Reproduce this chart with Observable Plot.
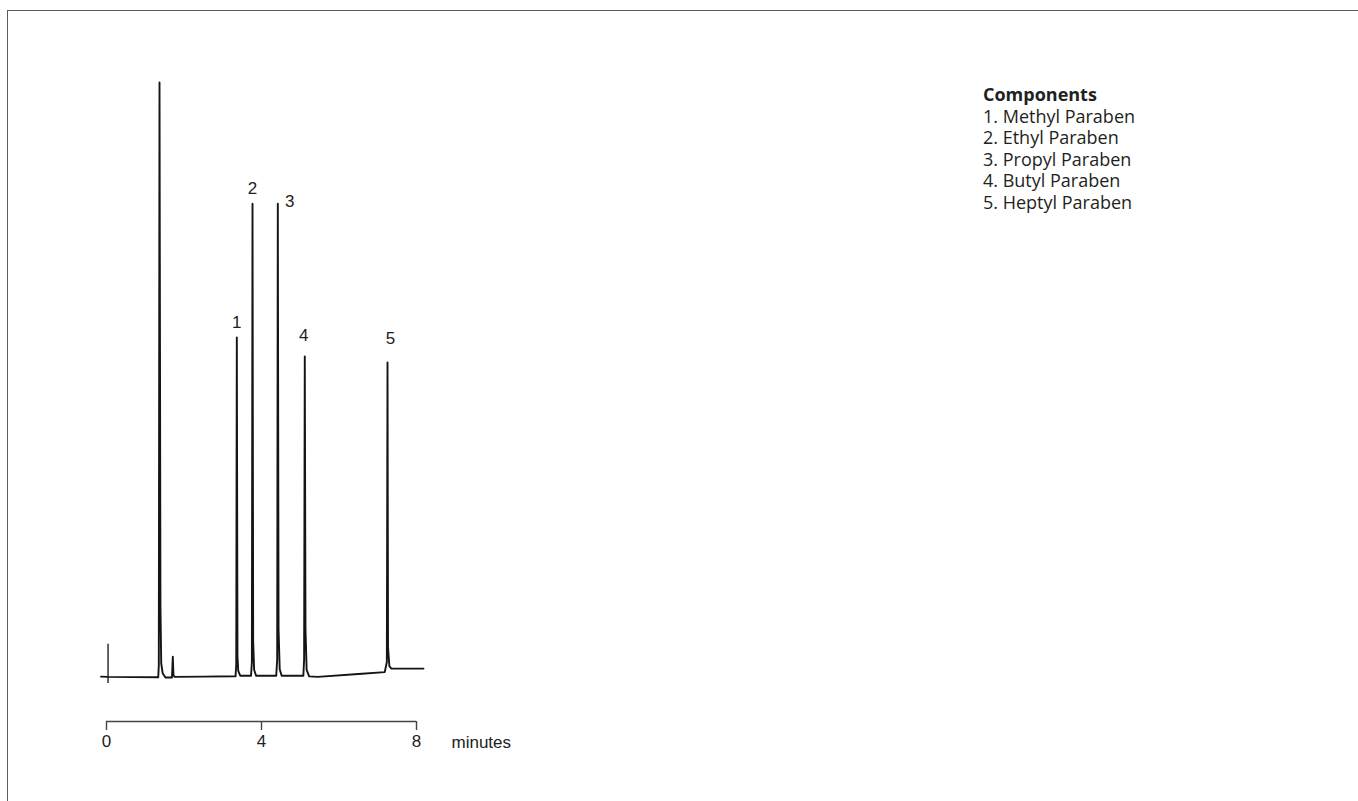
<!DOCTYPE html>
<html>
<head>
<meta charset="utf-8">
<script src="https://cdn.jsdelivr.net/npm/d3@7"></script>
<script src="https://cdn.jsdelivr.net/npm/@observablehq/plot@0.6"></script>
<style>
  html, body { margin: 0; padding: 0; background: #fff; }
  #page { position: relative; width: 1358px; height: 801px; overflow: hidden; }
  #frame { position: absolute; left: 7px; top: 10px; width: 1400px; height: 850px;
           border-top: 1.5px solid #5c5c5c; border-left: 1.5px solid #5c5c5c; }
  #chart { position: absolute; left: 0; top: 0; }
  #legend { position: absolute; left: 983px; top: 84px; font-family: "Open Sans", sans-serif;
            font-size: 18px; line-height: 21.5px; color: #231f20; }
  #legend .title { font-weight: 700; }
</style>
</head>
<body>
<div id="page">
  <div id="frame"></div>
  <div id="chart"></div>
  <div id="legend"></div>
</div>
<script>
// Detector trace between the numbered peaks: retention time (min) and response
const traceTime   = [-0.14, 0.04, 1.335, 1.350, 1.368, 1.392, 1.412, 1.450, 1.52,
                     1.69, 1.711, 1.728, 1.76, 2.5,
                     3.33, 3.348, 3.380, 3.40, 3.45,
                     3.73, 3.752, 3.785, 3.81, 3.86,
                     4.38, 4.405, 4.44, 4.47, 4.52,
                     5.08, 5.100, 5.135, 5.165, 5.23, 5.45, 6.5,
                     7.18, 7.235, 7.265, 7.30, 7.35, 8.18];
const traceSignal = [0.05, 0.0, -0.05, 2.0, 100, 12, 2.3, 0.6, -0.1,
                     -0.1, 3.4, 0.3, 0.0, 0.05,
                     0.1, 2.0, 3.5, 1.0, 0.2,
                     0.2, 2.5, 6.0, 1.2, 0.2,
                     0.2, 3.0, 8.0, 1.3, 0.2,
                     0.2, 3.0, 8.0, 1.2, 0.1, 0.0, 0.5,
                     0.8, 2.5, 5.0, 1.8, 1.4, 1.4];

// Numbered peaks: apex retention time (min) and response
const peakIds    = ["1", "2", "3", "4", "5"];
const peakTime   = [3.363, 3.768, 4.421, 5.117, 7.252];
const peakHeight = [57.1, 79.6, 79.6, 53.9, 52.9];

// Injection marker: time and vertical extent
const injectionTime  = [0.04];
const injectionRange = [-1.1, 5.5];

const componentNames = ["Methyl Paraben", "Ethyl Paraben", "Propyl Paraben", "Butyl Paraben", "Heptyl Paraben"];
const xTicks = [0, 4, 8];
const xDomain = [0, 8];
const yDomain = [-7.5, 100];

// Merge the apexes into the trace so labels and peaks share the same values
const trace = traceTime.map((t, i) => ({time: t, signal: traceSignal[i]}))
  .concat(peakTime.map((t, i) => ({time: t, signal: peakHeight[i]})))
  .sort((a, b) => a.time - b.time);

const peaks = peakIds.map((id, i) => ({id, time: peakTime[i], height: peakHeight[i]}));

// Pixel nudges for each peak number
const labelDx = [0, 0, 12, -1, 3];
const labelDy = [-15, -15, -2, -21, -24];

const chart = Plot.plot({
  width: 1358,
  height: 801,
  marginLeft: 106,
  marginRight: 942,
  marginTop: 82,
  marginBottom: 80,
  style: {fontFamily: "'Liberation Sans', Arial, sans-serif", fontSize: "17px", color: "#333", background: "transparent", overflow: "visible"},
  x: {domain: xDomain},
  y: {domain: yDomain, axis: null},
  marks: [
    Plot.ruleY([yDomain[0]], {stroke: "#444", strokeWidth: 1.4}),
    Plot.axisX({ticks: xTicks, tickSize: 9, tickPadding: 4, tickFormat: d => String(d), label: null, stroke: "#444", strokeWidth: 1.4, fill: "#222"}),
    Plot.text(["minutes"], {x: xDomain[1], y: yDomain[0], text: d => d, dx: 35, dy: 21, textAnchor: "start", fill: "#222", fontSize: 17}),
    Plot.ruleX(injectionTime, {x: d => d, y1: injectionRange[0], y2: injectionRange[1], stroke: "#222", strokeWidth: 1.4}),
    Plot.line(trace, {x: "time", y: "signal", stroke: "#141414", strokeWidth: 1.9, curve: "linear", strokeLinejoin: "round"}),
    ...peaks.map((p, i) => Plot.text([p], {
      x: "time", y: "height", text: "id", dx: labelDx[i], dy: labelDy[i],
      fontSize: 17, fill: "#222"
    }))
  ]
});
document.getElementById("chart").appendChild(chart);

const legend = document.getElementById("legend");
const title = document.createElement("div");
title.className = "title";
title.textContent = "Components";
legend.appendChild(title);
componentNames.forEach((name, i) => {
  const row = document.createElement("div");
  row.textContent = `${peakIds[i]}. ${name}`;
  legend.appendChild(row);
});
</script>
</body>
</html>
